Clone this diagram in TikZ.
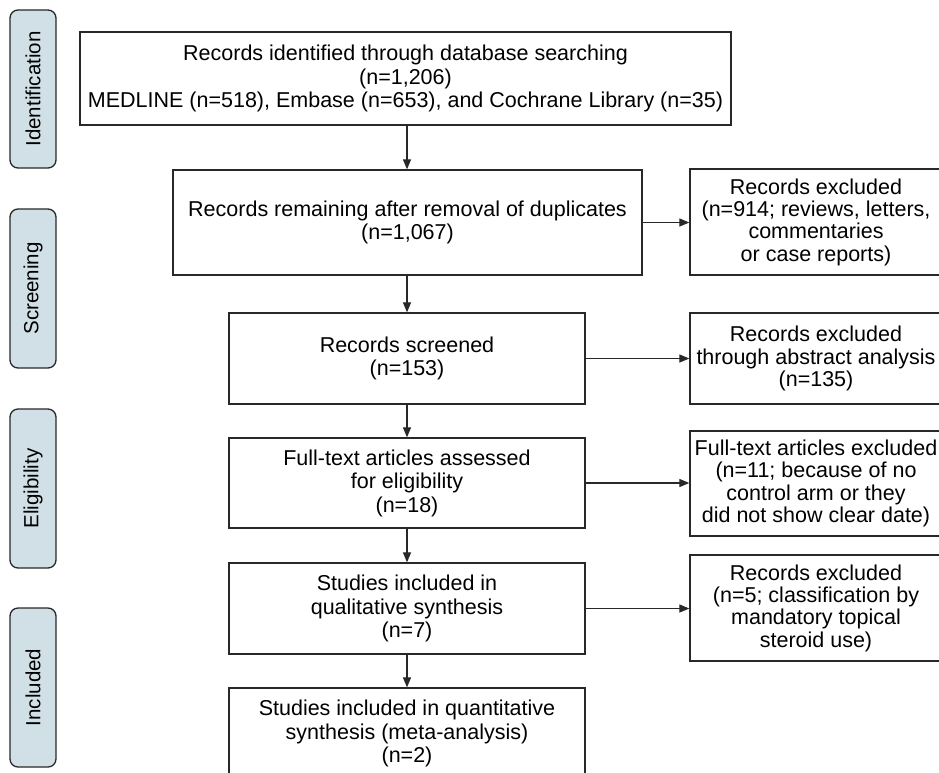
\documentclass[tikz,border=0pt]{standalone}
\usepackage{fontspec}
\setmainfont{Liberation Sans}
\usetikzlibrary{arrows.meta}
\definecolor{linec}{RGB}{40,40,40}
\definecolor{tabc}{RGB}{208,224,230}
\begin{document}
\begin{tikzpicture}[x=1pt,y=1pt,
  box/.style={draw=linec, line width=1.3pt, rectangle, align=center, inner sep=1pt,
              font=\fontsize{21.5}{23.5}\selectfont},
  sidebox/.style={box, font=\fontsize{21.5}{22.3}\selectfont},
  tab/.style={draw=linec, fill=tabc, line width=1.3pt, rounded corners=8pt,
              minimum height=46pt, inner sep=2pt, rotate=90,
              font=\fontsize{20.5}{23}\selectfont},
  arr/.style={draw=linec, line width=1.2pt, -{Triangle[length=10pt,width=8pt]}}]
\fill[white] (0,0) rectangle (939,-772);
\useasboundingbox (0,0) rectangle (939,-772);
\clip (0,0) rectangle (939,-772);
% phase tabs
\node[tab, minimum width=158pt] (t1) at (33,-89) {Identification};
\node[tab, minimum width=159pt] (t2) at (33,-288.5) {Screening};
\node[tab, minimum width=159pt] (t3) at (33,-488.5) {Eligibility};
\node[tab, minimum width=159pt] (t4) at (33,-687.5) {Included};
% main column
\node[box, minimum width=651pt, minimum height=93pt] (b1) at (405.5,-78.5)
  {Records identified through database searching\\(n=1,206)\\MEDLINE (n=518), Embase (n=653), and Cochrane Library (n=35)};
\node[box, minimum width=469pt, minimum height=105pt] (b2) at (407.5,-222.5)
  {Records remaining after removal of duplicates\\(n=1,067)};
\node[box, minimum width=356pt, minimum height=91pt] (b3) at (407,-358.5)
  {Records screened\\(n=153)};
\node[box, minimum width=356pt, minimum height=90pt] (b4) at (407,-483)
  {Full-text articles assessed\\for eligibility\\(n=18)};
\node[box, minimum width=356pt, minimum height=91pt] (b5) at (407,-608.5)
  {Studies included in\\qualitative synthesis\\(n=7)};
\node[box, minimum width=356pt, minimum height=91pt] (b6) at (407,-733.5)
  {Studies included in quantitative\\synthesis (meta-analysis)\\(n=2)};
% exclusion column
\node[sidebox, minimum width=252pt, minimum height=106pt] (r1) at (816,-222)
  {Records excluded\\(n=914; reviews, letters,\\commentaries\\or case reports)};
\node[sidebox, minimum width=252pt, minimum height=91pt] (r2) at (816,-358.5)
  {Records excluded\\through abstract analysis\\(n=135)};
\node[sidebox, minimum width=252pt, minimum height=105pt] (r3) at (816,-483.5)
  {Full-text articles excluded\\(n=11; because of no\\control arm or they\\did not show clear date)};
\node[sidebox, minimum width=252pt, minimum height=106pt] (r4) at (816,-608)
  {Records excluded\\(n=5; classification by\\mandatory topical\\steroid use)};
% vertical connectors
\draw[arr] (b1.south -| b3.north) -- (b2.north -| b3.north);
\draw[arr] (b2.south -| b3.north) -- (b3.north);
\draw[arr] (b3.south) -- (b4.north);
\draw[arr] (b4.south) -- (b5.north);
\draw[arr] (b5.south) -- (b6.north);
% horizontal connectors
\draw[arr] (b2.east) -- (r1.west |- b2.east);
\draw[arr] (b3.east) -- (r2.west |- b3.east);
\draw[arr] (b4.east) -- (r3.west |- b4.east);
\draw[arr] (b5.east) -- (r4.west |- b5.east);
\end{tikzpicture}
\end{document}
